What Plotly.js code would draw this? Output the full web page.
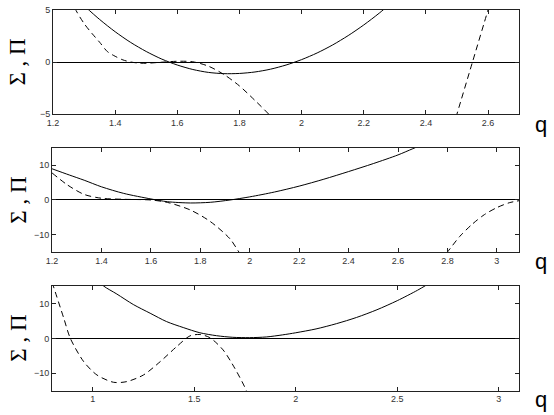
<!DOCTYPE html>
<html>
<head>
<meta charset="utf-8">
<script src="https://cdn.plot.ly/plotly-3.0.1.min.js"></script>
<style>
  html, body { margin: 0; padding: 0; background: #fff; }
  #chart { width: 554px; height: 415px; }
</style>
</head>
<body>
<div id="chart"></div>
<script>
// panel 1 (top)
let p1SolidQ = [1.30, 1.35, 1.40, 1.45, 1.50, 1.55, 1.60, 1.65, 1.70, 1.75, 1.80, 1.85, 1.90, 1.95, 2.00, 2.05, 2.10, 2.15, 2.20, 2.25, 2.30];
let p1SolidV = [5.41, 4.09, 2.91, 1.88, 1.01, 0.28, -0.29, -0.72, -1.00, -1.12, -1.10, -0.96, -0.69, -0.29, 0.23, 0.87, 1.64, 2.54, 3.56, 4.70, 5.97];
let p1DashQ = [1.25, 1.27, 1.30, 1.325, 1.35, 1.375, 1.40, 1.425, 1.45, 1.475, 1.50, 1.55, 1.60, 1.65, 1.70, 1.75, 1.80, 1.85, 1.90, 1.95, 2.20, 2.46, 2.48, 2.50, 2.55, 2.60, 2.62];
let p1DashV = [7.0, 5.2, 3.7, 2.76, 1.9, 1.0, 0.55, 0.2, 0.0, -0.1, -0.12, -0.02, 0.07, 0.02, -0.4, -1.2, -2.3, -3.7, -5.2, -7.0, null, -9.0, -7.0, -5.0, 0.0, 5.0, 7.0];

// panel 2 (middle)
let p2SolidQ = [1.20, 1.27, 1.33, 1.40, 1.49, 1.60, 1.667, 1.76, 1.84, 1.92, 2.00, 2.10, 2.20, 2.30, 2.40, 2.50, 2.60, 2.66, 2.70];
let p2SolidV = [9.0, 7.2, 5.7, 3.8, 1.9, 0.3, -0.5, -0.86, -0.67, 0.0, 0.9, 2.3, 4.0, 6.0, 8.2, 10.5, 13.0, 14.8, 16.0];
let p2DashQ = [1.20, 1.263, 1.33, 1.40, 1.49, 1.60, 1.667, 1.76, 1.84, 1.92, 1.956, 1.98, 2.40, 2.77, 2.80, 2.85, 2.90, 2.95, 3.00, 3.05, 3.09];
let p2DashV = [7.8, 4.3, 1.6, 0.5, 0.2, 0.0, -0.7, -2.9, -6.2, -11.2, -15.0, -17.5, null, -17.5, -15.0, -10.5, -7.0, -4.2, -2.2, -0.8, -0.2];

// panel 3 (bottom)
let p3SolidQ = [1.03, 1.054, 1.119, 1.20, 1.283, 1.364, 1.446, 1.528, 1.61, 1.69, 1.773, 1.855, 1.936, 2.00, 2.10, 2.20, 2.30, 2.40, 2.50, 2.60, 2.65];
let p3SolidV = [16.5, 15.0, 12.7, 9.7, 7.2, 4.8, 3.1, 1.6, 0.76, 0.3, 0.2, 0.4, 1.0, 1.6, 2.7, 4.2, 6.0, 8.2, 10.8, 13.8, 15.5];
let p3DashQ = [0.80, 0.806, 0.858, 0.89, 0.956, 1.021, 1.103, 1.168, 1.25, 1.332, 1.413, 1.479, 1.528, 1.577, 1.642, 1.70, 1.757, 1.78];
let p3DashV = [16.0, 15.0, 5.7, 0.0, -6.7, -10.5, -12.6, -12.4, -10.5, -6.7, -2.4, 0.7, 1.1, 0.2, -3.3, -8.6, -15.0, -19.0];

let p1Range = [1.2, 2.7], p2Range = [1.2, 3.09], p3Range = [0.8, 3.1];
let p1Ticks = [-5, 0, 5], p23Ticks = [-10, 0, 10];

let solid = {color: '#000', width: 1, shape: 'spline', smoothing: 0.8};
let dashed = {color: '#000', width: 1, dash: '6px,4px', shape: 'spline', smoothing: 0.8};

let data = [
  {x: p1SolidQ, y: p1SolidV, mode: 'lines', line: solid, xaxis: 'x', yaxis: 'y'},
  {x: p1DashQ, y: p1DashV, mode: 'lines', line: dashed, xaxis: 'x', yaxis: 'y'},
  {x: p2SolidQ, y: p2SolidV, mode: 'lines', line: solid, xaxis: 'x2', yaxis: 'y2'},
  {x: p2DashQ, y: p2DashV, mode: 'lines', line: dashed, xaxis: 'x2', yaxis: 'y2'},
  {x: p3SolidQ, y: p3SolidV, mode: 'lines', line: solid, xaxis: 'x3', yaxis: 'y3'},
  {x: p3DashQ, y: p3DashV, mode: 'lines', line: dashed, xaxis: 'x3', yaxis: 'y3'}
];

let tickFont = {family: 'Liberation Sans, Arial, sans-serif', size: 9, color: '#333'};

let xax = function(range, dtick, dom, anchor){
  return {
    range: range, domain: dom, anchor: anchor,
    dtick: dtick, tick0: 0,
    showgrid: false, zeroline: false,
    showline: true, mirror: 'ticks', linecolor: '#222', linewidth: 1,
    ticks: 'inside', ticklen: 4, tickcolor: '#222',
    tickfont: tickFont
  };
};
let yax = function(range, vals, dom, anchor){
  return {
    range: range, domain: dom, anchor: anchor,
    tickvals: vals,
    showgrid: false, zeroline: true, zerolinecolor: '#000', zerolinewidth: 1,
    showline: true, mirror: 'ticks', linecolor: '#222', linewidth: 1,
    ticks: 'inside', ticklen: 4, tickcolor: '#222',
    tickfont: tickFont
  };
};

let xdom = [0.094, 0.937];

let labelFont = {family: 'Liberation Serif, Times New Roman, serif', size: 23, color: '#000'};
let qFont = {family: 'Liberation Sans, Arial, sans-serif', size: 22, color: '#000'};

let annots = [];
[0.851, 0.518, 0.1855].forEach(function(yy){
  annots.push({text: 'Σ , Π', xref: 'paper', yref: 'paper', x: 0.032, y: yy,
    textangle: -90, showarrow: false, font: labelFont, xanchor: 'center', yanchor: 'middle'});
});
[0.700, 0.369, 0.037].forEach(function(yy){
  annots.push({text: 'q', xref: 'paper', yref: 'paper', x: 0.976, y: yy,
    showarrow: false, font: qFont, xanchor: 'center', yanchor: 'middle'});
});

let layout = {
  width: 554, height: 415,
  margin: {l: 0, r: 0, t: 0, b: 0},
  paper_bgcolor: '#fff', plot_bgcolor: '#fff',
  showlegend: false,
  xaxis: xax(p1Range, 0.2, [0.0957, 0.937], 'y'),
  yaxis: yax([-5, 5], p1Ticks, [0.7253, 0.9759], 'x'),
  xaxis2: xax(p2Range, 0.2, xdom, 'y2'),
  yaxis2: yax([-15, 15], p23Ticks, [0.3928, 0.6434], 'x2'),
  xaxis3: xax(p3Range, 0.5, xdom, 'y3'),
  yaxis3: yax([-15, 15], p23Ticks, [0.0586, 0.3108], 'x3'),
  annotations: annots
};

Plotly.newPlot('chart', data, layout, {staticPlot: true});
</script>
</body>
</html>
